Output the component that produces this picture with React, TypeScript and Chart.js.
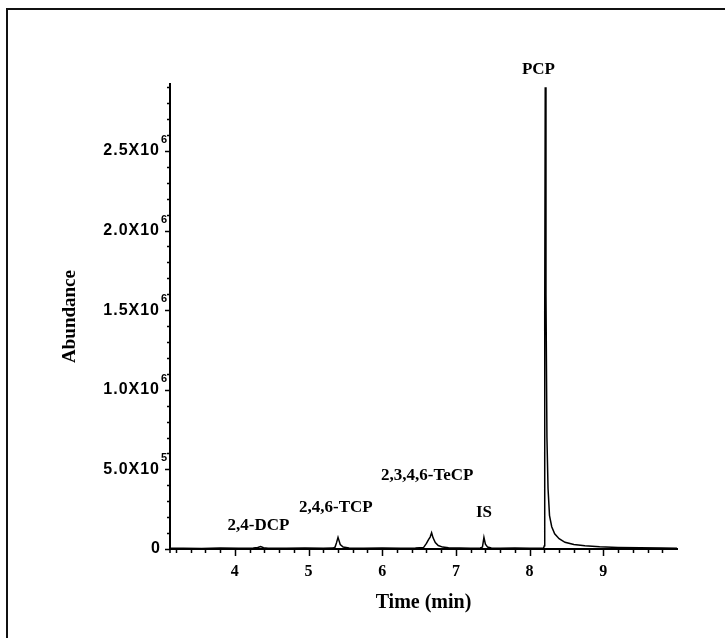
import React, { useEffect, useRef } from 'react';
import { Chart, registerables } from 'chart.js';

Chart.register(...registerables);

// ---- data ----
const timeMin = [
  3.12, 3.30, 3.55, 3.80, 4.05, 4.25, 4.31, 4.35, 4.39, 4.45,
  4.70, 4.95, 5.20, 5.33, 5.36, 5.38, 5.40, 5.43, 5.47, 5.55,
  5.75, 6.00, 6.25, 6.45, 6.56, 6.60, 6.63, 6.65, 6.67, 6.69,
  6.72, 6.76, 6.82, 6.90, 7.05, 7.20, 7.33, 7.36, 7.38, 7.40,
  7.43, 7.48, 7.60, 7.80, 8.00, 8.15, 8.19, 8.20, 8.205, 8.212,
  8.222, 8.235, 8.25, 8.27, 8.30, 8.34, 8.40, 8.48, 8.60, 8.75,
  8.95, 9.20, 9.50, 9.80, 10.0,
];
const abundance = [
  4000, 5000, 3500, 5500, 4500, 6000, 9000, 15000, 8000, 5000,
  4500, 6000, 5000, 5500, 12000, 40000, 73000, 28000, 12000, 7000,
  5000, 6000, 5000, 6500, 9000, 35000, 60000, 75000, 102000, 70000,
  40000, 22000, 12000, 8000, 6000, 5000, 6000, 12000, 73000, 30000,
  12000, 7000, 5000, 5500, 4500, 5000, 6000, 20000, 1500000, 2900000,
  1600000, 700000, 380000, 210000, 140000, 95000, 65000, 42000, 28000, 20000,
  14000, 10000, 8000, 6000, 5000,
];

const xMajorTicks = [4, 5, 6, 7, 8, 9];
const xMinorTicks = [
  3.2, 3.4, 3.6, 3.8, 4.2, 4.4, 4.6, 4.8, 5.2, 5.4, 5.6, 5.8,
  6.2, 6.4, 6.6, 6.8, 7.2, 7.4, 7.6, 7.8, 8.2, 8.4, 8.6, 8.8,
  9.2, 9.4, 9.6, 9.8,
];
const yMajorTicks = [0, 500000, 1000000, 1500000, 2000000, 2500000];
const yTickMantissa = ['0', '5.0X10', '1.0X10', '1.5X10', '2.0X10', '2.5X10'];
const yTickExponent = ['', '5', '6', '6', '6', '6'];
const yMinorTicks = [
  100000, 200000, 300000, 400000, 600000, 700000, 800000, 900000,
  1100000, 1200000, 1300000, 1400000, 1600000, 1700000, 1800000, 1900000,
  2100000, 2200000, 2300000, 2400000, 2600000, 2700000, 2800000, 2900000,
];

const peakNames = ['2,4-DCP', '2,4,6-TCP', '2,3,4,6-TeCP', 'IS', 'PCP'];
const peakLabelTime = [4.32, 5.37, 6.61, 7.38, 8.12];
const peakLabelAbundance = [150000, 257000, 464000, 226000, 3010000];

const X_MIN = 3.12;
const X_MAX = 10.0;
const Y_MIN = 0;
const Y_MAX = 2920000;

const decorPlugin = {
  id: 'decor',
  afterDraw(chart: any) {
    const ctx = chart.ctx;
    const xs = chart.scales.x;
    const ys = chart.scales.y;
    const base = ys.getPixelForValue(0);
    const axisX = xs.left;
    ctx.save();
    ctx.strokeStyle = '#000';
    ctx.lineWidth = 1.5;
    ctx.beginPath();
    for (const v of xMinorTicks) {
      const px = Math.round(xs.getPixelForValue(v)) + 0.5;
      ctx.moveTo(px, base);
      ctx.lineTo(px, base + 4);
    }
    for (const v of xMajorTicks) {
      const px = Math.round(xs.getPixelForValue(v)) + 0.5;
      ctx.moveTo(px, base);
      ctx.lineTo(px, base + 7);
    }
    for (const v of yMinorTicks) {
      const py = Math.round(ys.getPixelForValue(v)) + 0.5;
      ctx.moveTo(axisX, py);
      ctx.lineTo(axisX - 3, py);
    }
    for (const v of yMajorTicks) {
      const py = Math.round(ys.getPixelForValue(v)) + 0.5;
      ctx.moveTo(axisX, py);
      ctx.lineTo(axisX - 5, py);
    }
    // small extension of the y axis below zero
    ctx.moveTo(axisX, base);
    ctx.lineTo(axisX, base + 4);
    ctx.stroke();

    // y tick labels with superscript exponent
    ctx.fillStyle = '#000';
    ctx.textBaseline = 'middle';
    yMajorTicks.forEach((v, i) => {
      const py = ys.getPixelForValue(v);
      ctx.font = 'bold 16px "Liberation Sans", Arial, sans-serif';
      (ctx as any).letterSpacing = '1px';
      ctx.textAlign = 'right';
      const right = yTickExponent[i] ? axisX - 10 : axisX - 9;
      ctx.fillText(yTickMantissa[i], right, py);
      if (yTickExponent[i]) {
        (ctx as any).letterSpacing = '0px';
        ctx.font = 'bold 11px "Liberation Sans", Arial, sans-serif';
        ctx.textAlign = 'left';
        ctx.fillText(yTickExponent[i], right + 1, py - 11);
      }
    });
    (ctx as any).letterSpacing = '0px';

    // peak labels
    ctx.font = 'bold 17px "Liberation Serif", "Times New Roman", serif';
    ctx.textAlign = 'center';
    ctx.textBaseline = 'middle';
    peakNames.forEach((name, i) => {
      ctx.fillText(
        name,
        xs.getPixelForValue(peakLabelTime[i]),
        ys.getPixelForValue(peakLabelAbundance[i])
      );
    });
    ctx.restore();
  },
};

export default function App() {
  const canvasRef = useRef<HTMLCanvasElement | null>(null);

  useEffect(() => {
    if (!canvasRef.current) return;
    const points = timeMin.map((t, i) => ({ x: t, y: abundance[i] }));
    const chart = new Chart(canvasRef.current, {
      type: 'line',
      data: {
        datasets: [
          {
            data: points,
            borderColor: '#000',
            borderWidth: 1.5,
            pointRadius: 0,
            tension: 0,
            fill: false,
          },
        ],
      },
      options: {
        animation: false,
        responsive: false,
        devicePixelRatio: 1,
        layout: { padding: { left: 55, top: 84, right: 48, bottom: 0 } },
        plugins: {
          legend: { display: false },
          tooltip: { enabled: false },
        },
        scales: {
          x: {
            type: 'linear',
            min: X_MIN,
            max: X_MAX,
            afterBuildTicks: (scale: any) => {
              scale.ticks = xMajorTicks.map((v) => ({ value: v }));
            },
            afterFit: (scale: any) => {
              scale.height = 89;
            },
            grid: { display: false, drawTicks: false },
            border: { display: true, color: '#000', width: 2 },
            ticks: {
              color: '#000',
              padding: 13,
              autoSkip: false,
              maxRotation: 0,
              font: { family: '"Liberation Serif", "Times New Roman", serif', weight: 'bold', size: 16 },
              callback: (v: any) => String(v),
            },
            title: {
              display: true,
              text: 'Time (min)',
              color: '#000',
              font: { family: '"Liberation Serif", "Times New Roman", serif', weight: 'bold', size: 20 },
              padding: { top: 0, bottom: 23 },
            },
          },
          y: {
            type: 'linear',
            min: Y_MIN,
            max: Y_MAX,
            afterBuildTicks: (scale: any) => {
              scale.ticks = yMajorTicks.map((v) => ({ value: v }));
            },
            afterFit: (scale: any) => {
              scale.width = 115;
            },
            grid: { display: false, drawTicks: false },
            border: { display: true, color: '#000', width: 2 },
            ticks: { display: false },
            title: {
              display: true,
              text: 'Abundance',
              color: '#000',
              font: { family: '"Liberation Serif", "Times New Roman", serif', weight: 'bold', size: 19 },
              padding: { top: 4, bottom: 0 },
            },
          },
        },
      },
      plugins: [decorPlugin],
    });
    return () => chart.destroy();
  }, []);

  return (
    <div
      style={{
        position: 'fixed',
        left: 0,
        top: 0,
        width: 725,
        height: 638,
        overflow: 'hidden',
        background: '#fff',
      }}
    >
      <div
        style={{
          position: 'absolute',
          left: 6,
          top: 8,
          width: 760,
          height: 700,
          borderLeft: '2px solid #111',
          borderTop: '2px solid #111',
          boxSizing: 'border-box',
        }}
      />
      <canvas
        ref={canvasRef}
        width={725}
        height={638}
        style={{ position: 'absolute', left: 0, top: 0, width: 725, height: 638, display: 'block' }}
      />
    </div>
  );
}
